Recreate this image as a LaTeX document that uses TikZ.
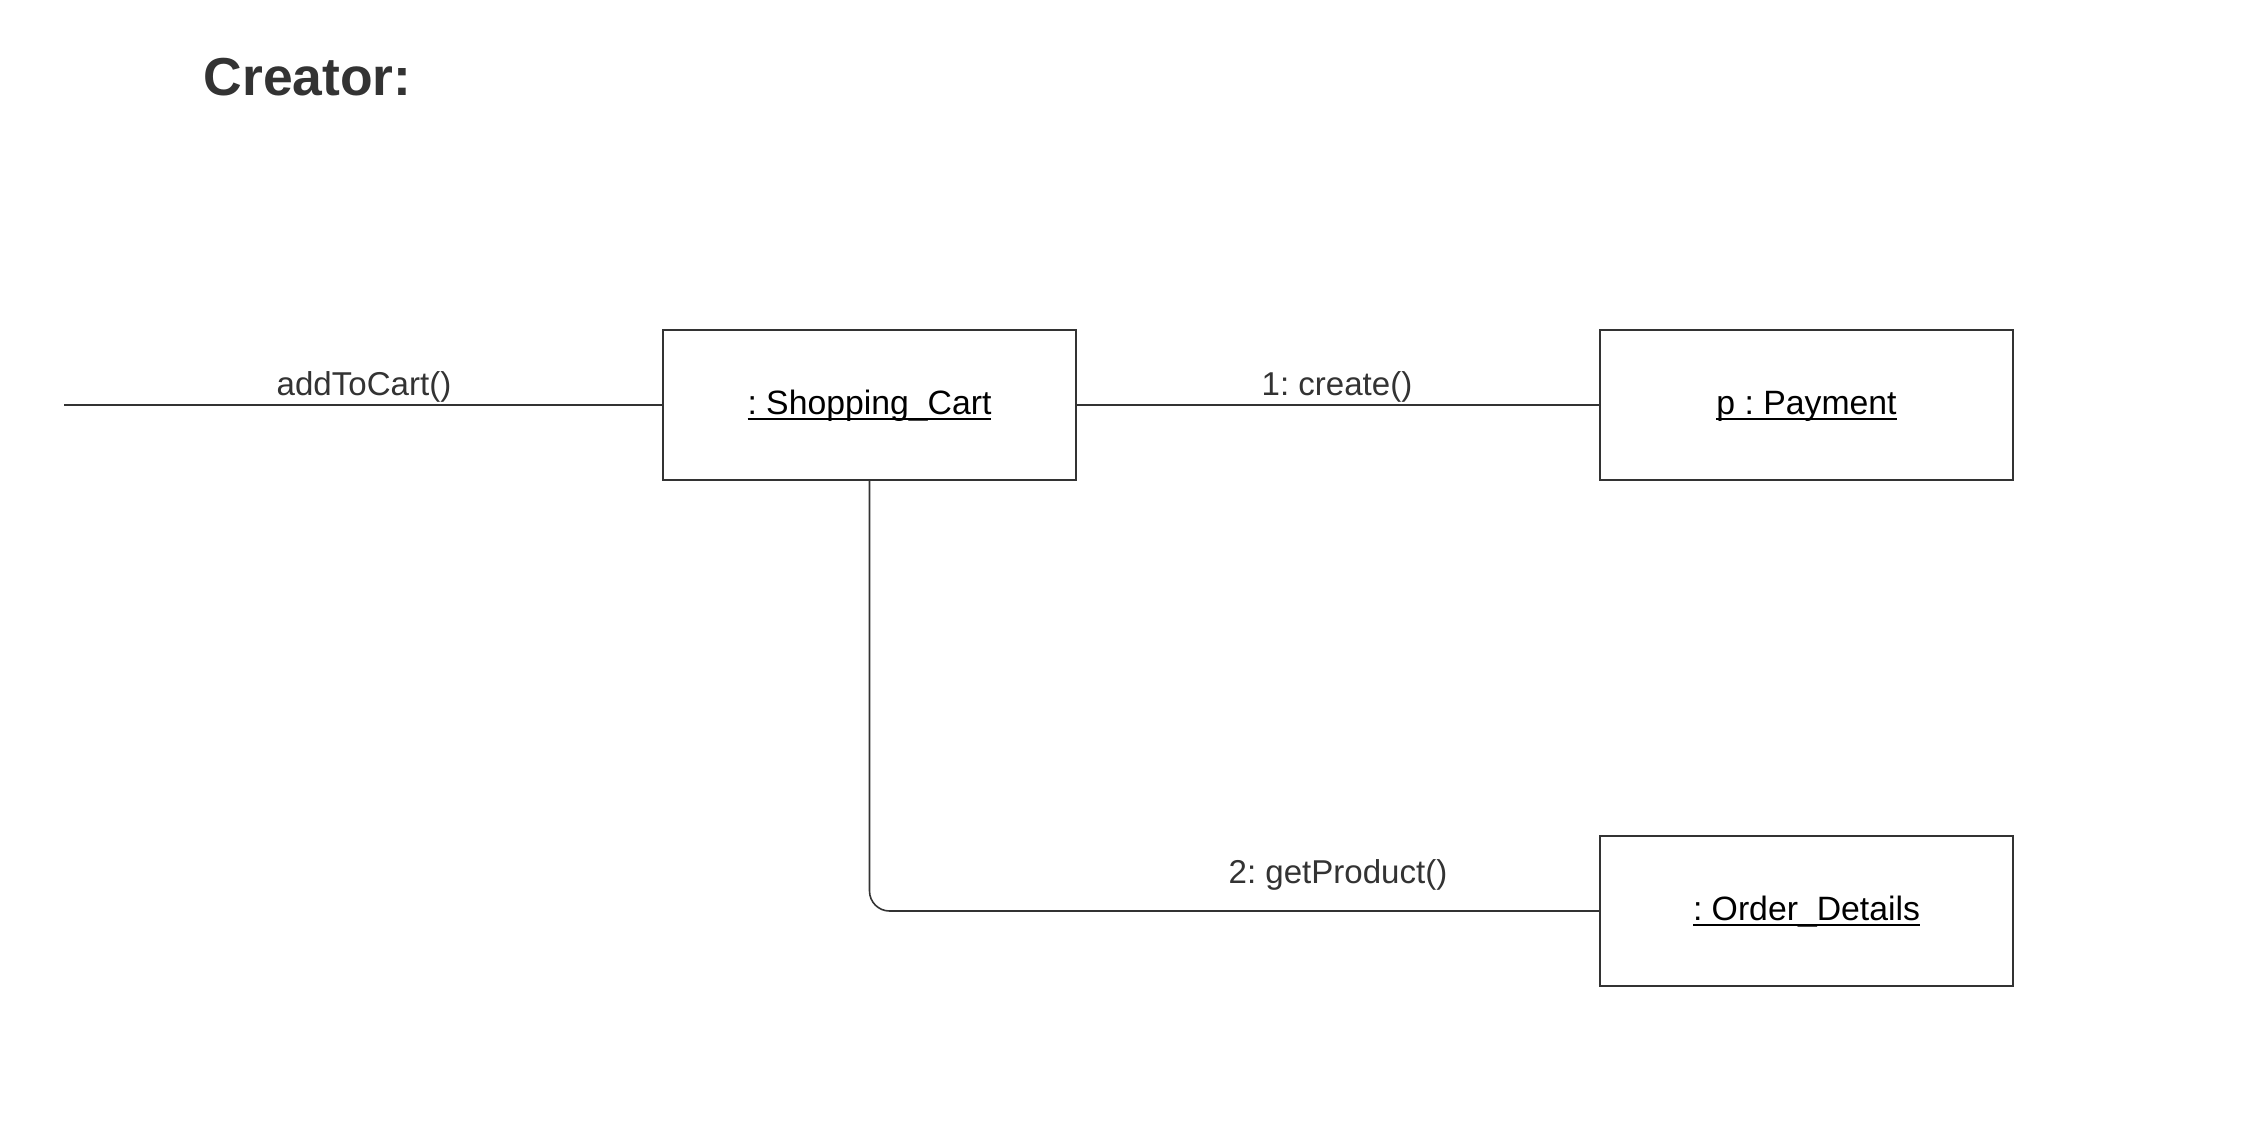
\documentclass[tikz,border=0pt]{standalone}
\usepackage{fontspec}
\setmainfont{Liberation Sans}
\frenchspacing
\definecolor{ink}{HTML}{333333}
\newcommand{\objname}[1]{\setbox0\hbox{#1}\rlap{\rule[-1.4pt]{\wd0}{0.55pt}}\box0}

\begin{document}
\begin{tikzpicture}[
                x=0.01cm, y=-0.01cm,
                object/.style={draw=ink, line width=0.55pt, minimum width=4.13cm, minimum height=1.5cm,
                    inner sep=0pt, text height=7pt, text depth=1.5pt, font=\fontsize{9.6}{11.5}\selectfont},
                msg/.style={text=ink, inner sep=0pt, anchor=base, font=\fontsize{9.4}{11}\selectfont},
                link/.style={draw=ink, line width=0.45pt}
            ]
            \useasboundingbox (0,0) rectangle (2259,1129);

            \node[anchor=base west, inner sep=0pt, text=ink, font=\bfseries\fontsize{15.2}{18}\selectfont] (title) at (203,95) {Creator:};

            % objects
            \node[object] (cart) at (869.5,405) {\objname{: Shopping\_Cart}};
            \node[object] (payment) at (1806.5,405) {\objname{p : Payment}};
            \node[object] (order) at (1806.5,911) {\objname{: Order\_Details}};

            % links
            \coordinate (caller) at (64,405);
            \draw[link] (caller) -- (cart.west);
            \draw[link] (cart.east) -- (payment.west);
            \draw[link, rounded corners=5.7pt] (cart.south) |- (order.west);

            % messages
            \node[msg] (add) at (364,395) {addToCart()};
            \node[msg] (create) at (1337,395) {1: create()};
            \node[msg] (get) at (1338,883) {2: getProduct()};

        \end{tikzpicture}
\end{document}
